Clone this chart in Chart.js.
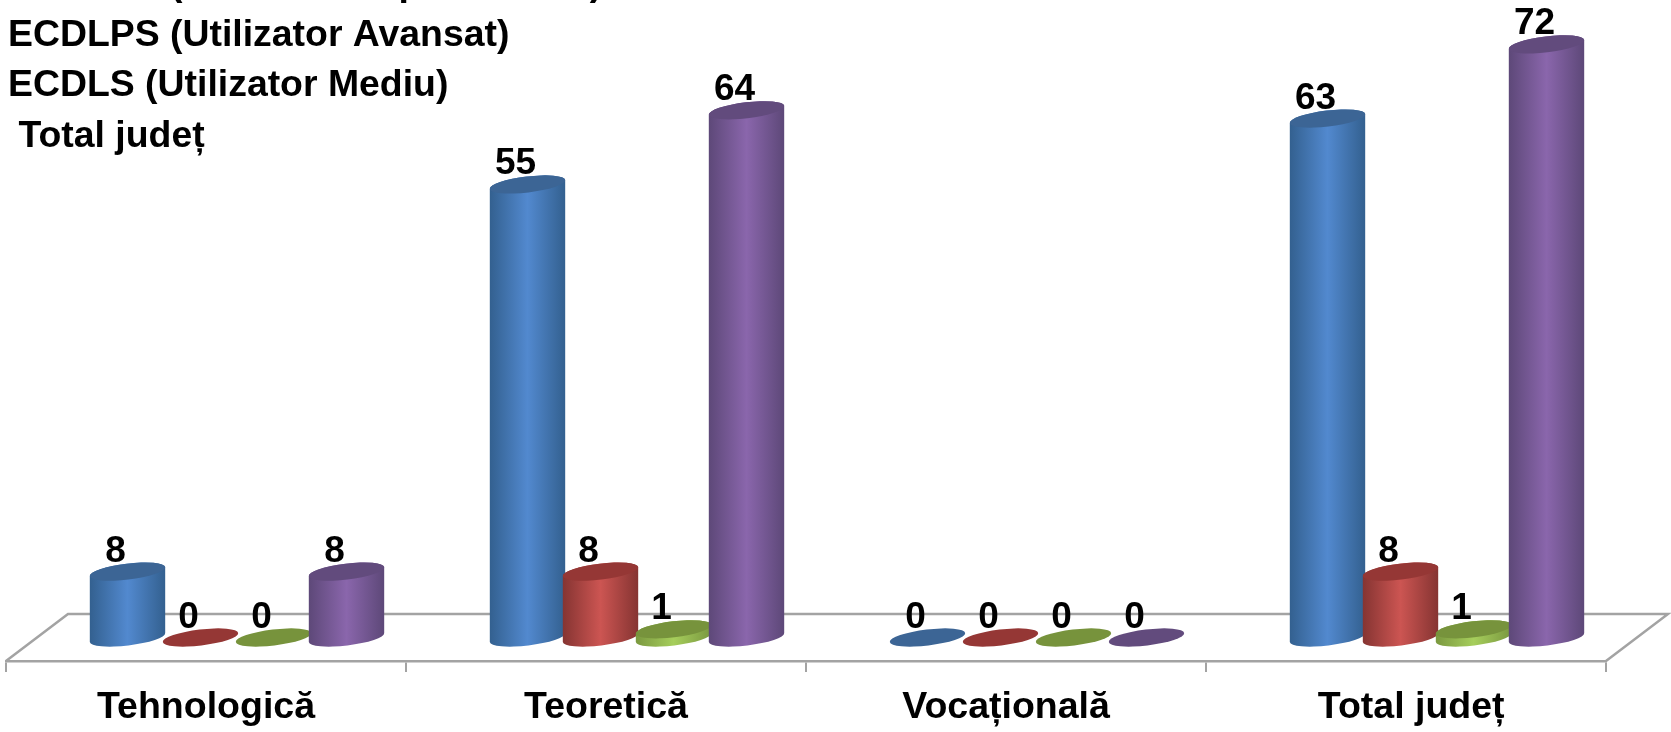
<!DOCTYPE html>
<html>
<head>
<meta charset="utf-8">
<title>ECDL</title>
<script src="https://cdn.jsdelivr.net/npm/chart.js@4"></script>
<style>
  body { margin: 0; background: #fff; }
  canvas { display: block; }
</style>
</head>
<body>
<canvas id="ecdlChart" width="1671" height="732"></canvas>
<script>
const categories = ["Tehnologică", "Teoretică", "Vocațională", " Total județ"];
const seriesNames = [
  "ECDLPE (Utilizator Experimentat)",
  "ECDLPS (Utilizator Avansat)",
  "ECDLS (Utilizator Mediu)",
  " Total județ",
];
const experimentat = [8, 55, 0, 63];
const avansat = [0, 8, 0, 8];
const mediu = [0, 1, 0, 1];
const totalJudet = [8, 64, 0, 72];

const FONT = "'Liberation Sans', Arial, sans-serif";
const GRAY = "#a3a3a3";

// Depth of the floor, the bars stand in the middle of it
const DEPTH_X = 62;
const DEPTH_Y = 47;
const TILT = (-6.8 * Math.PI) / 180;
const RY = 8;

const palettes = [
  { edge: "#33608f", mid: "#5289cf", top: "#3c6595" },
  { edge: "#853432", mid: "#cc5552", top: "#953735" },
  { edge: "#7a983f", mid: "#a6ce5c", top: "#77933c" },
  { edge: "#5d4878", mid: "#8a66ac", top: "#624b7d" },
];

function drawCylinder(ctx, bar, colors) {
  const rx = bar.width / 2;
  const cx = bar.x + DEPTH_X / 2;
  const baseY = bar.base - DEPTH_Y / 2;
  const topY = bar.y - DEPTH_Y / 2;

  if (baseY - topY > 0.5) {
    const grad = ctx.createLinearGradient(cx - rx, 0, cx + rx, 0);
    grad.addColorStop(0, colors.edge);
    grad.addColorStop(0.5, colors.mid);
    grad.addColorStop(1, colors.edge);
    ctx.beginPath();
    ctx.ellipse(cx, baseY, rx, RY, TILT, 0, Math.PI);
    ctx.ellipse(cx, topY, rx, RY, TILT, Math.PI, Math.PI * 2);
    ctx.closePath();
    ctx.fillStyle = grad;
    ctx.fill();
  }
  ctx.beginPath();
  ctx.ellipse(cx, topY, rx, RY, TILT, 0, Math.PI * 2);
  ctx.fillStyle = colors.top;
  ctx.fill();
}

const cylinderPlugin = {
  id: "cylinders",
  beforeDatasetsDraw(chart) {
    // Back and side edges of the floor
    const { ctx, chartArea } = chart;
    ctx.save();
    ctx.strokeStyle = GRAY;
    ctx.lineWidth = 2.5;
    ctx.beginPath();
    ctx.moveTo(chartArea.left, chartArea.bottom);
    ctx.lineTo(chartArea.left + DEPTH_X, chartArea.bottom - DEPTH_Y);
    ctx.lineTo(chartArea.right + DEPTH_X, chartArea.bottom - DEPTH_Y);
    ctx.lineTo(chartArea.right, chartArea.bottom);
    ctx.stroke();

    // First series at the bottom, each next one overlaps it
    chart.data.datasets.forEach((dataset, i) => {
      chart.getDatasetMeta(i).data.forEach((bar) => {
        drawCylinder(ctx, bar, palettes[i]);
      });
    });
    ctx.restore();
  },
  beforeDatasetDraw() {
    return false;
  },
  afterDatasetsDraw(chart) {
    const ctx = chart.ctx;
    ctx.save();
    ctx.fillStyle = "#000";
    ctx.textAlign = "center";
    ctx.textBaseline = "alphabetic";
    ctx.font = `bold 37px ${FONT}`;
    chart.data.datasets.forEach((dataset, i) => {
      chart.getDatasetMeta(i).data.forEach((bar, j) => {
        const x = bar.x + DEPTH_X / 2 - 12;
        const y = bar.y - DEPTH_Y / 2 - 10;
        ctx.fillText(dataset.data[j], x, y);
      });
    });

    // Series names, the first line runs off the top of the picture
    ctx.textAlign = "left";
    ctx.font = `bold 37.4px ${FONT}`;
    chart.data.datasets.forEach((dataset, i) => {
      ctx.fillText(dataset.label, 8, -5 + i * 50.7);
    });
    ctx.restore();
  },
};

const seriesValues = [experimentat, avansat, mediu, totalJudet];

new Chart(document.getElementById("ecdlChart").getContext("2d"), {
  type: "bar",
  data: {
    labels: categories,
    datasets: seriesValues.map((values, i) => ({
      label: seriesNames[i],
      data: values,
      backgroundColor: palettes[i].mid,
      categoryPercentage: 0.73,
      barPercentage: 1.04,
    })),
  },
  options: {
    responsive: false,
    animation: false,
    layout: { padding: { left: 6, right: 65, top: 2, bottom: 0 } },
    plugins: {
      legend: { display: false },
      tooltip: { enabled: false },
    },
    scales: {
      x: {
        afterFit: (scale) => {
          scale.height = 71;
        },
        border: { color: GRAY, width: 2.5 },
        grid: {
          drawOnChartArea: false,
          color: GRAY,
          lineWidth: 2,
          tickLength: 11,
        },
        ticks: {
          color: "#000",
          padding: 13,
          maxRotation: 0,
          font: { family: FONT, size: 37.5, weight: "bold" },
        },
      },
      y: { display: false, min: 0, max: 80 },
    },
  },
  plugins: [cylinderPlugin],
});
</script>
</body>
</html>
